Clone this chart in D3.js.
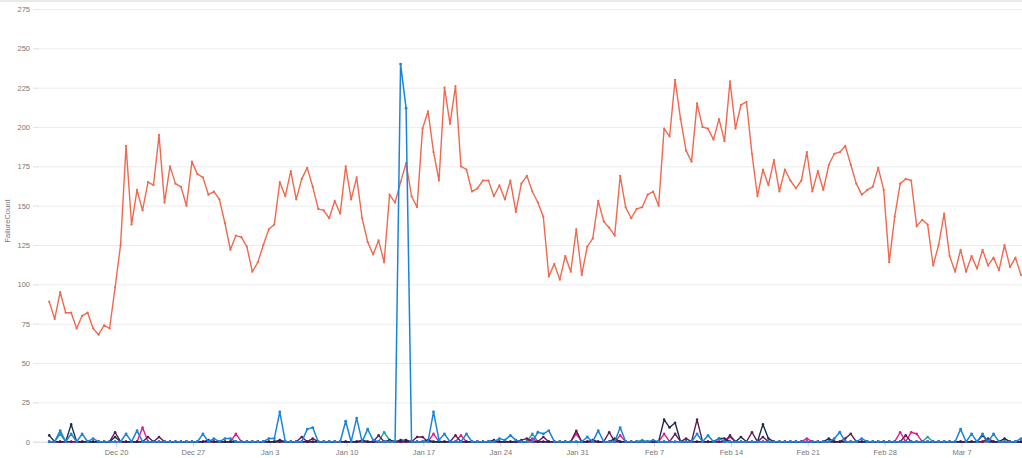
<!DOCTYPE html>
<html><head><meta charset="utf-8">
<script src="https://cdn.jsdelivr.net/npm/d3@7"></script>
<style>
body{margin:0;background:#fff}
svg{display:block;font-family:"Segoe UI","Liberation Sans",Arial,sans-serif}
</style>
</head><body>
<svg id="chart" width="1022" height="458"></svg>
<script>
// ---- data (12-hour buckets) ----
const startTime = Date.UTC(2020, 11, 13, 22);
const stepHours = 12;

const failuresMain = [
 89,78,95,82,82,72,80,82,72,68, 74,72,98,125,188,138,160,147,165,163,
 195,152,175,164,162,150,178,170,168,157, 159,154,139,122,131,130,124,108,114,125,
 135,138,165,156,172,154,167,174,162,148, 147,142,153,145,175,154,168,142,127,119,
 128,114,157,152,165,177,156,149,199,210, 184,166,225,202,226,175,173,159,161,166,
 166,156,163,154,166,146,164,169,159,152, 143,105,113,103,118,108,135,106,124,129,
 153,140,136,131,169,149,142,148,149,157, 159,150,199,194,230,205,185,178,215,200,
 199,192,205,191,229,199,214,216,183,156, 173,163,179,159,173,166,161,166,184,159,
 172,160,176,183,184,188,176,164,157,160, 162,174,160,114,143,164,167,166,137,141,
 138,112,125,145,118,108,122,108,118,110, 122,112,117,109,125,111,117,106
];

const failuresBlue = [
 0,0,7,0,5,0,5,0,2,0, 0,0,0,0,5,0,7,0,0,0, 0,0,0,0,0,0,0,0,5,0,
 2,0,2,2,0,0,0,0,0,0, 2,2,19,0,0,0,0,8,9,0, 0,0,0,0,13,0,15,0,8,1,
 0,0,0,0,240,212,0,0,0,0, 19,1,5,0,0,0,5,0,0,0, 0,0,2,1,4,1,0,0,0,6,
 5,7,0,0,0,0,0,0,3,0, 7,0,0,0,9,0,0,0,0,0, 1,0,0,0,0,0,0,0,5,0,
 4,0,2,0,0,0,0,0,0,0, 0,0,0,0,0,0,0,0,0,0, 0,0,0,2,6,0,0,0,2,0,
 0,0,0,0,0,0,0,0,0,0, 0,0,0,0,0,0,8,0,5,0, 5,0,5,0,0,0,0,2
];

const failuresNavy = [
 4,0,0,0,11,0,0,0,0,0, 0,0,3,0,0,0,0,0,0,0, 0,0,0,0,0,0,0,0,0,1,
 0,0,0,0,0,0,0,0,0,0, 0,0,1,0,0,0,0,0,0,0, 0,0,0,0,0,0,0,1,0,0,
 0,0,1,0,1,1,0,0,0,1, 0,0,0,0,0,0,0,0,0,0, 0,1,0,0,0,0,0,0,0,0,
 0,0,0,0,0,0,0,0,0,1, 0,0,0,2,0,0,0,0,0,0, 0,0,14,9,12,0,0,0,0,0,
 0,0,2,2,0,0,3,0,0,0, 11,2,0,0,0,0,0,0,0,0, 0,0,2,0,0,0,0,0,0,0,
 0,0,0,0,0,0,0,0,0,0, 0,0,0,0,0,0,0,0,0,0, 4,0,0,0,2,0,0,0
];

const failuresPurple = [
 0,0,0,0,0,0,0,0,0,0, 0,0,6,0,0,0,0,0,3,0, 3,0,0,0,0,0,0,0,0,0,
 0,0,0,0,0,0,0,0,0,0, 0,0,0,0,0,0,3,0,2,0, 0,0,0,0,0,0,0,0,0,0,
 4,0,0,0,0,0,0,3,3,0, 0,0,0,0,4,0,0,0,0,0, 0,0,0,0,0,0,1,2,0,0,
 3,0,0,0,0,0,7,0,0,0, 0,0,6,0,0,0,0,0,0,0, 0,0,0,0,5,0,2,0,14,0,
 0,0,0,0,4,0,0,0,6,0, 3,0,0,0,0,0,0,0,0,0, 0,0,0,0,0,2,5,0,0,0,
 0,0,0,0,0,0,4,0,0,0, 0,0,0,0,0,0,0,0,0,0, 0,2,0,0,0,0,0,0
];

const failuresMagenta = [
 0,0,0,0,0,0,0,0,0,0, 0,0,0,0,0,0,0,9,0,0, 0,0,0,0,0,0,0,0,0,0,
 0,0,0,0,5,0,0,0,0,0, 0,0,0,0,0,0,0,0,0,0, 0,0,0,0,0,0,0,0,0,0,
 0,0,0,0,0,0,0,0,0,0, 5,0,0,0,0,4,0,0,0,0, 0,0,0,0,0,0,0,0,2,0,
 0,0,0,0,0,0,5,0,0,0, 0,0,0,0,4,0,0,0,0,0, 0,0,5,0,0,0,0,0,0,0,
 0,0,0,0,3,0,0,0,0,0, 0,0,0,0,0,0,0,0,2,0, 0,0,0,0,0,0,0,0,0,0,
 0,0,0,0,0,6,0,6,5,0, 0,0,0,0,0,0,0,0,0,0, 0,0,0,0,0,0,0,0
];

const failuresTeal = [
 0,0,5,0,0,0,0,0,0,0, 0,0,0,0,0,0,0,0,0,0, 0,0,0,0,0,0,0,0,0,0,
 0,0,0,0,0,0,0,0,0,0, 0,0,0,0,0,0,0,0,0,0, 0,0,0,0,0,0,0,0,0,0,
 0,6,1,0,0,0,0,0,0,0, 0,0,0,0,0,0,0,0,0,0, 0,0,0,0,0,0,0,0,5,0,
 0,0,0,0,0,0,0,0,0,0, 0,0,0,0,0,0,0,0,1,0, 0,0,0,0,0,0,0,0,0,0,
 0,0,0,0,0,0,0,0,0,0, 0,0,0,0,0,0,0,0,0,0, 0,0,0,0,0,0,0,0,0,0,
 0,0,0,0,0,0,0,0,0,0, 3,0,0,0,0,0,0,0,0,0, 0,0,0,0,0,0,0,0
];

const xTickDates = ["2020-12-20","2020-12-27","2021-01-03","2021-01-10","2021-01-17","2021-01-24",
                    "2021-01-31","2021-02-07","2021-02-14","2021-02-21","2021-02-28","2021-03-07"];
const yTickValues = [0,25,50,75,100,125,150,175,200,225,250,275];
const yAxisTitle = "FailureCount";

// ---- chart ----
const W = 1022, H = 458;
const plotLeft = 33, plotRight = 1022, plotTop = 9, plotBottom = 441.7;
const svg = d3.select("#chart");

const x = d3.scaleUtc()
  .domain([new Date(Date.UTC(2020,11,20)), new Date(Date.UTC(2021,2,7))])
  .range([116, 961.5]);
const y = d3.scaleLinear().domain([0, 275]).range([plotBottom, plotTop]);

const timeOf = i => new Date(startTime + i * stepHours * 3600000);

svg.append("rect").attr("x",0).attr("y",0).attr("width",W).attr("height",2).attr("fill","#e9e9e9");

// y grid + labels
const gy = svg.append("g").attr("transform", `translate(${plotLeft},0)`)
  .call(d3.axisLeft(y).tickValues(yTickValues).tickSize(-(plotRight-plotLeft)).tickPadding(3));
gy.select(".domain").remove();
gy.selectAll(".tick line").attr("stroke", d => d === 0 ? "#d3dbe8" : "#ececec").attr("stroke-width", 1);
gy.selectAll(".tick text").attr("fill","#777").attr("font-size","7.5px");
gy.selectAll(".tick").append("line").attr("x1",0).attr("x2",6).attr("stroke","#dfe6f1");

// x axis
const gx = svg.append("g").attr("transform", `translate(0,${plotBottom})`)
  .call(d3.axisBottom(x).tickValues(xTickDates.map(s => new Date(s + "T00:00:00Z")))
    .tickFormat(d3.utcFormat("%b %-d")).tickSize(5).tickPadding(3));
gx.select(".domain").remove();
gx.selectAll(".tick line").attr("stroke","#c9d3e3");
gx.selectAll(".tick text").attr("fill","#777").attr("font-size","7.5px");

// y title
svg.append("text").attr("transform","translate(10,221) rotate(-90)")
  .attr("text-anchor","middle").attr("fill","#777").attr("font-size","7.5px").text(yAxisTitle);

svg.append("clipPath").attr("id","clip").append("rect")
  .attr("x",plotLeft).attr("y",0).attr("width",plotRight-plotLeft+2).attr("height",plotBottom+3);

const plot = svg.append("g").attr("clip-path","url(#clip)");
const line = d3.line().x((d,i) => x(timeOf(i))).y(d => y(d));

const series = [
  {values: failuresMain, color: "#f0694f", w: 1.4, r: 1.1},
  {values: failuresTeal, color: "#1f9e9e", w: 1.4, r: 1.3},
  {values: failuresMagenta, color: "#e5198d", w: 1.4, r: 1.3},
  {values: failuresPurple, color: "#5c1c52", w: 1.4, r: 1.3},
  {values: failuresNavy, color: "#1c2b4d", w: 1.4, r: 1.3},
  {values: failuresBlue, color: "#1a84da", w: 1.5, r: 1.4}
];

series.forEach(s => {
  plot.append("path").datum(s.values).attr("d", line)
    .attr("fill","none").attr("stroke", s.color).attr("stroke-width", s.w)
    .attr("stroke-linejoin","round");
  plot.append("g").selectAll("circle").data(s.values).join("circle")
    .attr("cx",(d,i) => x(timeOf(i))).attr("cy", d => y(d))
    .attr("r", s.r).attr("fill", s.color);
});
</script>
</body></html>
